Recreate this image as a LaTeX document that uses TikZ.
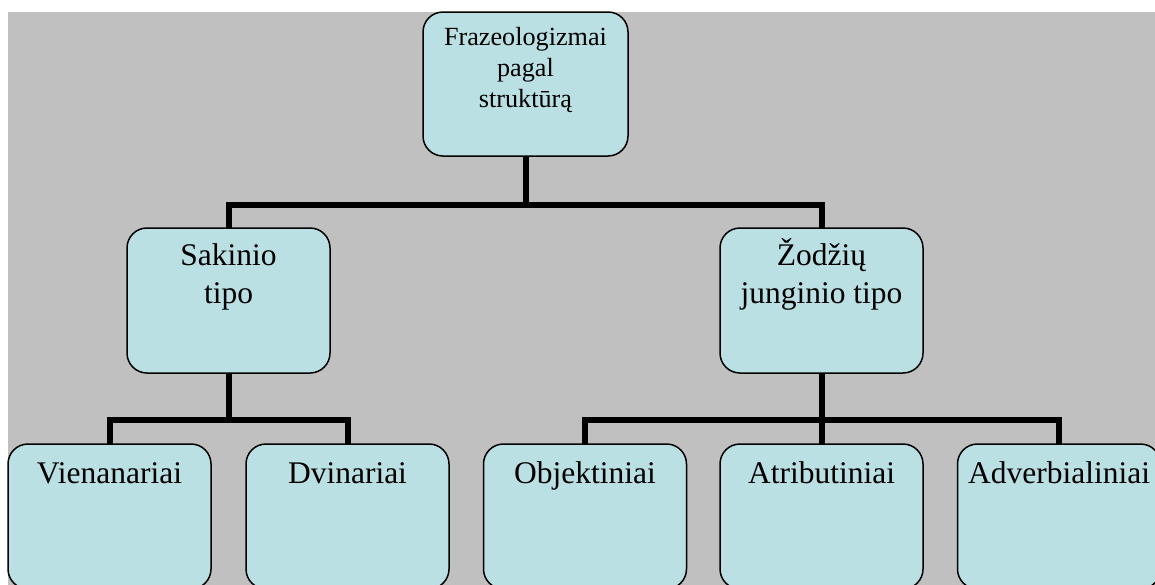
\documentclass[tikz,border=0pt]{standalone}
\usepackage{fontspec}
\setmainfont{Liberation Serif}
\definecolor{bggray}{HTML}{C0C0C0}
\definecolor{boxfill}{HTML}{BBE0E3}
\pgfdeclarelayer{bg}
\pgfsetlayers{bg,main}
\newcommand{\boxtxt}[4]{\parbox[t][145pt][t]{#1}{\centering\fontsize{#2}{#3}\selectfont #4}}
\tikzset{
  box/.style={draw=black, line width=1.5pt, fill=boxfill, rounded corners=20pt, inner sep=0pt, outer sep=0pt},
  conn/.style={draw=black, line width=6pt, line join=miter, line cap=butt}
}
\begin{document}
\begin{tikzpicture}[x=1pt,y=-1pt]
\clip (0,0) rectangle (1155,584);
\useasboundingbox (0,0) rectangle (1155,584);
\node[box] (top) at (525.5,84) {\parbox[t][144pt][t]{205pt}{\centering\fontsize{26.2}{31}\selectfont\rule{0pt}{33pt}Frazeologizmai\\pagal\\struktūrą}};
\node[box] (sak) at (228.5,300.5) {\boxtxt{203pt}{31.5}{38}{\rule{0pt}{37pt}Sakinio\\tipo}};
\node[box] (zod) at (821.5,300.5) {\boxtxt{203pt}{31.5}{38}{\rule{0pt}{37pt}Žodžių\\junginio tipo}};
\node[box] (vien) at (109.5,516.5) {\boxtxt{203pt}{31.5}{38}{\rule{0pt}{39pt}Vienanariai}};
\node[box] (dvi) at (347.5,516.5) {\boxtxt{203pt}{31.5}{38}{\rule{0pt}{39pt}Dvinariai}};
\node[box] (obj) at (585,516.5) {\boxtxt{203pt}{31.5}{38}{\rule{0pt}{39pt}Objektiniai}};
\node[box] (atr) at (821.5,516.5) {\boxtxt{203pt}{31.5}{38}{\rule{0pt}{39pt}Atributiniai}};
\node[box] (adv) at (1059,516.5) {\boxtxt{203pt}{31.5}{38}{\rule{0pt}{39pt}Adverbialiniai}};
% bus coordinates
\coordinate (b1) at (525.5,205);
\coordinate (b2) at (228.5,420);
\coordinate (b3) at (821.5,420);
\begin{pgfonlayer}{bg}
\fill[white] (0,0) rectangle (1155,584);
\fill[bggray] (8,12) rectangle (1160,590);
\draw[conn] (top.south) -- (b1);
\draw[conn] (sak.north) |- (b1) -| (zod.north);
\draw[conn] (sak.south) -- (b2);
\draw[conn] (vien.north) |- (b2) -| (dvi.north);
\draw[conn] (zod.south) -- (b3);
\draw[conn] (obj.north) |- (b3) -| (adv.north);
\draw[conn] (atr.north) -- (b3);
\end{pgfonlayer}
\end{tikzpicture}
\end{document}
